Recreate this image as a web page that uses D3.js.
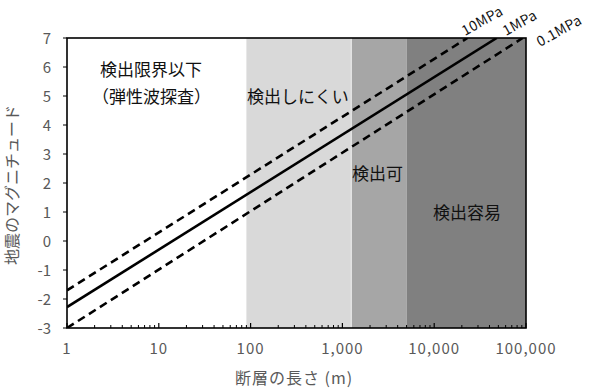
<!DOCTYPE html>
<html><head><meta charset="utf-8">
<script src="https://cdn.jsdelivr.net/npm/d3@7"></script>
<style>
body{margin:0;background:#fff;}
svg{display:block;font-family:"Noto Sans CJK JP","Noto Sans",sans-serif;}
</style></head>
<body>
<svg id="c" width="595" height="388"></svg>
<script>
// ---- data ----
const xTickValues = [1, 10, 100, 1000, 10000, 100000];
const xTickLabels = ["1", "10", "100", "1,000", "10,000", "100,000"];
const yTickValues = [-3, -2, -1, 0, 1, 2, 3, 4, 5, 6, 7];
const bandEdges = [[90, 1250], [1250, 5000], [5000, 100000]];
const bandNames = ["検出しにくい", "検出可", "検出容易"];
const lineNames = ["10MPa", "1MPa", "0.1MPa"];
const line10MPa = [[1, -1.7], [23000, 7]];
const line1MPa = [[1, -2.28], [48000, 7]];
const line01MPa = [[1, -3.0], [92000, 7]];
const xTitle = "断層の長さ (m)";
const yTitle = "地震のマグニチュード";
const noteLines = ["検出限界以下", "（弾性波探査）"];

// ---- layout ----
const svg = d3.select("#c");
const L = 67, R = 526, T = 38, B = 328;
const x = d3.scaleLog().domain([1, 100000]).range([L, R]);
const y = d3.scaleLinear().domain([-3, 7]).range([B, T]);
const bandColors = ["#d9d9d9", "#a6a6a6", "#808080"];
const tickColor = "#595959";

// bands
svg.selectAll("rect.band").data(bandEdges).enter().append("rect")
  .attr("x", d => x(d[0])).attr("y", T)
  .attr("width", d => x(d[1]) - x(d[0])).attr("height", B - T)
  .attr("fill", (d, i) => bandColors[i]);
svg.append("line").attr("x1", x(bandEdges[1][0])).attr("x2", x(bandEdges[1][0]))
  .attr("y1", T).attr("y2", B).attr("stroke", "#eeeeee").attr("stroke-width", 1);

// lines
const lg = d3.line().x(d => x(d[0])).y(d => y(d[1]));
svg.append("clipPath").attr("id", "pc").append("rect")
  .attr("x", L).attr("y", T).attr("width", R - L).attr("height", B - T);
const gl = svg.append("g").attr("clip-path", "url(#pc)");
[[line10MPa, true], [line1MPa, false], [line01MPa, true]].forEach(([d, dash]) => {
  gl.append("path").attr("d", lg(d)).attr("fill", "none").attr("stroke", "#000")
    .attr("stroke-width", 2.6).attr("stroke-dasharray", dash ? "8,5" : null);
});

// frame
svg.append("rect").attr("x", L).attr("y", T).attr("width", R - L).attr("height", B - T)
  .attr("fill", "none").attr("stroke", "#000").attr("stroke-width", 1.6);

// x axis ticks (inward)
const minor = [];
for (let e = 0; e < 5; e++) for (let k = 2; k <= 9; k++) minor.push(k * Math.pow(10, e));
svg.selectAll("line.mn").data(minor).enter().append("line")
  .attr("x1", d => x(d)).attr("x2", d => x(d)).attr("y1", B).attr("y2", B - 3)
  .attr("stroke", "#000").attr("stroke-width", 1);
svg.selectAll("line.mj").data(xTickValues).enter().append("line")
  .attr("x1", d => x(d)).attr("x2", d => x(d)).attr("y1", B).attr("y2", B - 5)
  .attr("stroke", "#000").attr("stroke-width", 1.2);
svg.selectAll("text.xt").data(xTickValues).enter().append("text")
  .attr("x", d => x(d)).attr("y", 354).attr("text-anchor", "middle")
  .attr("font-size", 15).attr("letter-spacing", 1).attr("fill", tickColor)
  .text((d, i) => xTickLabels[i]);

// y axis ticks (outward)
svg.selectAll("line.yt").data(yTickValues).enter().append("line")
  .attr("x1", L - 4).attr("x2", L).attr("y1", d => y(d)).attr("y2", d => y(d))
  .attr("stroke", "#000").attr("stroke-width", 1);
svg.selectAll("text.yt").data(yTickValues).enter().append("text")
  .attr("x", 51).attr("y", d => y(d) + 5.5).attr("text-anchor", "end")
  .attr("font-size", 15).attr("fill", tickColor).text(d => d);

// titles
svg.append("text").attr("x", 294).attr("y", 384).attr("text-anchor", "middle")
  .attr("font-size", 16).attr("fill", tickColor).attr("letter-spacing", 1).text(xTitle);
svg.append("text").attr("transform", "translate(18,185) rotate(-90)")
  .attr("text-anchor", "middle").attr("font-size", 16).attr("fill", tickColor)
  .text(yTitle);

// annotations
svg.append("text").attr("x", 100).attr("y", 76).attr("font-size", 17).attr("fill", "#111").text(noteLines[0]);
svg.append("text").attr("x", 92).attr("y", 103).attr("font-size", 17).attr("fill", "#111").text(noteLines[1]);
svg.append("text").attr("x", 247).attr("y", 103).attr("font-size", 17).attr("fill", "#111").text(bandNames[0]);
svg.append("text").attr("x", 352).attr("y", 180).attr("font-size", 17).attr("fill", "#111").text(bandNames[1]);
svg.append("text").attr("x", 433).attr("y", 219).attr("font-size", 17).attr("fill", "#111").text(bandNames[2]);

// line labels
const lineLabelPos = [[465, 36], [506, 36], [540, 47]];
lineNames.forEach((n, i) => {
  svg.append("text").attr("transform", `translate(${lineLabelPos[i][0]},${lineLabelPos[i][1]}) rotate(-29)`)
    .attr("font-size", 14).attr("letter-spacing", 0.4).attr("fill", "#111").text(n);
});
</script>
</body></html>
